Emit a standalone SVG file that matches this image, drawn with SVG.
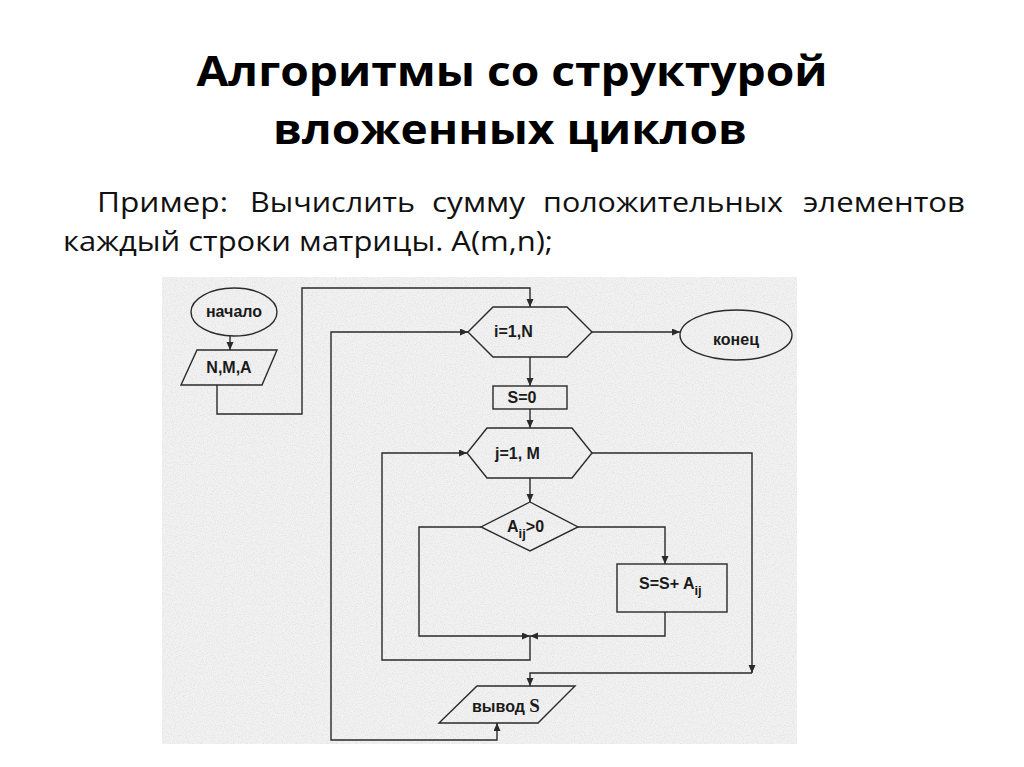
<svg xmlns="http://www.w3.org/2000/svg" width="1024" height="767" viewBox="0 0 1024 767">
<defs>
<marker id="arr" markerUnits="userSpaceOnUse" markerWidth="9" markerHeight="8" refX="8" refY="3.5" orient="auto-start-reverse">
<path d="M0,0 L8,3.5 L0,7 z" fill="#2a2a2a"/>
</marker>
<filter id="tex" x="0" y="0" width="1" height="1">
<feTurbulence type="fractalNoise" baseFrequency="0.9" numOctaves="2" seed="3" result="n"/>
<feColorMatrix in="n" type="matrix" values="0 0 0 0 0.65  0 0 0 0 0.65  0 0 0 0 0.65  0 0 0 -1.2 0.7" result="m"/>
<feComposite in="m" in2="SourceGraphic" operator="in" result="c"/>
<feMerge><feMergeNode in="SourceGraphic"/><feMergeNode in="c"/></feMerge>
</filter>
</defs>
<style>
.shape{fill:none;stroke:#2a2a2a;stroke-width:1.4}
.conn path{fill:none;stroke:#2a2a2a;stroke-width:1.4}
.lbl{font-family:"Liberation Sans",Arial,sans-serif;font-weight:bold;font-size:16px;fill:#1a1a1a}
.sub{font-size:13px}
.title{font-family:"Open Sans","DejaVu Sans",sans-serif;font-weight:bold;font-size:42px;fill:#000}
.body{font-family:"Open Sans","DejaVu Sans",sans-serif;font-size:27px;fill:#111}
</style>
<rect width="1024" height="767" fill="#ffffff"/>
<g id="title">
<text class="title" x="512" y="86" text-anchor="middle" textLength="631" lengthAdjust="spacingAndGlyphs">Алгоритмы со структурой</text>
<text class="title" x="510" y="144" text-anchor="middle" textLength="474" lengthAdjust="spacingAndGlyphs">вложенных циклов</text>
</g>
<g id="body">
<text class="body" y="212" x="97" textLength="131" lengthAdjust="spacingAndGlyphs">Пример:</text>
<text class="body" y="212" x="250" textLength="165" lengthAdjust="spacingAndGlyphs">Вычислить</text>
<text class="body" y="212" x="432" textLength="93" lengthAdjust="spacingAndGlyphs">сумму</text>
<text class="body" y="212" x="543" textLength="240" lengthAdjust="spacingAndGlyphs">положительных</text>
<text class="body" y="212" x="803" textLength="162" lengthAdjust="spacingAndGlyphs">элементов</text>
<text class="body" y="251" x="63" textLength="490" lengthAdjust="spacingAndGlyphs">каждый строки матрицы. A(m,n);</text>
</g>
<rect id="panel" x="162" y="277" width="635" height="467" fill="#f2f2f2" filter="url(#tex)"/>
<g id="start">
<ellipse class="shape" cx="234" cy="312" rx="43" ry="24"/>
<text class="lbl" x="234" y="317" text-anchor="middle">начало</text>
</g>
<g id="input">
<polygon class="shape" points="197,350 277,350 262,385 181,385"/>
<text class="lbl" x="229" y="373" text-anchor="middle">N,M,A</text>
</g>
<g id="loop-i">
<polygon class="shape" points="493,307 567,307 592,332 567,357 493,357 468,332"/>
<text class="lbl" x="494" y="337">i=1,N</text>
</g>
<g id="end">
<ellipse class="shape" cx="736" cy="335" rx="56" ry="25"/>
<text class="lbl" x="736" y="345" text-anchor="middle">конец</text>
</g>
<g id="init">
<rect class="shape" x="493" y="386" width="74" height="23"/>
<text class="lbl" x="522" y="403" text-anchor="middle">S=0</text>
</g>
<g id="loop-j">
<polygon class="shape" points="487,428 572,428 592,453 572,478 487,478 467,453"/>
<text class="lbl" x="495" y="459">j=1, M</text>
</g>
<g id="cond">
<polygon class="shape" points="530,502 578,527 530,551 481,527"/>
<text class="lbl" x="507" y="532">A<tspan class="sub" dy="6">ij</tspan><tspan dy="-6">&gt;0</tspan></text>
</g>
<g id="sum">
<rect class="shape" x="617" y="564" width="110" height="48"/>
<text class="lbl" x="639" y="589">S=S+ A<tspan class="sub" dy="6">ij</tspan></text>
</g>
<g id="output">
<polygon class="shape" points="477,686 575,686 538,723 439,723"/>
<text class="lbl" x="472" y="712">вывод <tspan font-family="'Liberation Serif',serif" font-size="19">S</tspan></text>
</g>
<g class="conn" id="connectors">
<path d="M230,336 V350" marker-end="url(#arr)"/>
<path d="M217,385 V414 H302 V288 H530 V307" marker-end="url(#arr)"/>
<path d="M592,332 H680" marker-end="url(#arr)"/>
<path d="M530,357 V386" marker-end="url(#arr)"/>
<path d="M530,409 V428" marker-end="url(#arr)"/>
<path d="M530,478 V502" marker-end="url(#arr)"/>
<path d="M578,527 H665 V564" marker-end="url(#arr)"/>
<path d="M481,527 H419 V636 H530" marker-end="url(#arr)"/>
<path d="M665,612 V636 H530" marker-end="url(#arr)"/>
<path d="M530,636 V660 H382 V453 H467" marker-end="url(#arr)"/>
<path d="M592,453 H752 V673" marker-end="url(#arr)"/>
<path d="M752,673 H530 V686" marker-end="url(#arr)"/>
<path d="M497,723 V740 H331 V332 H468" marker-start="url(#arr)" marker-end="url(#arr)"/>
</g>
</svg>
